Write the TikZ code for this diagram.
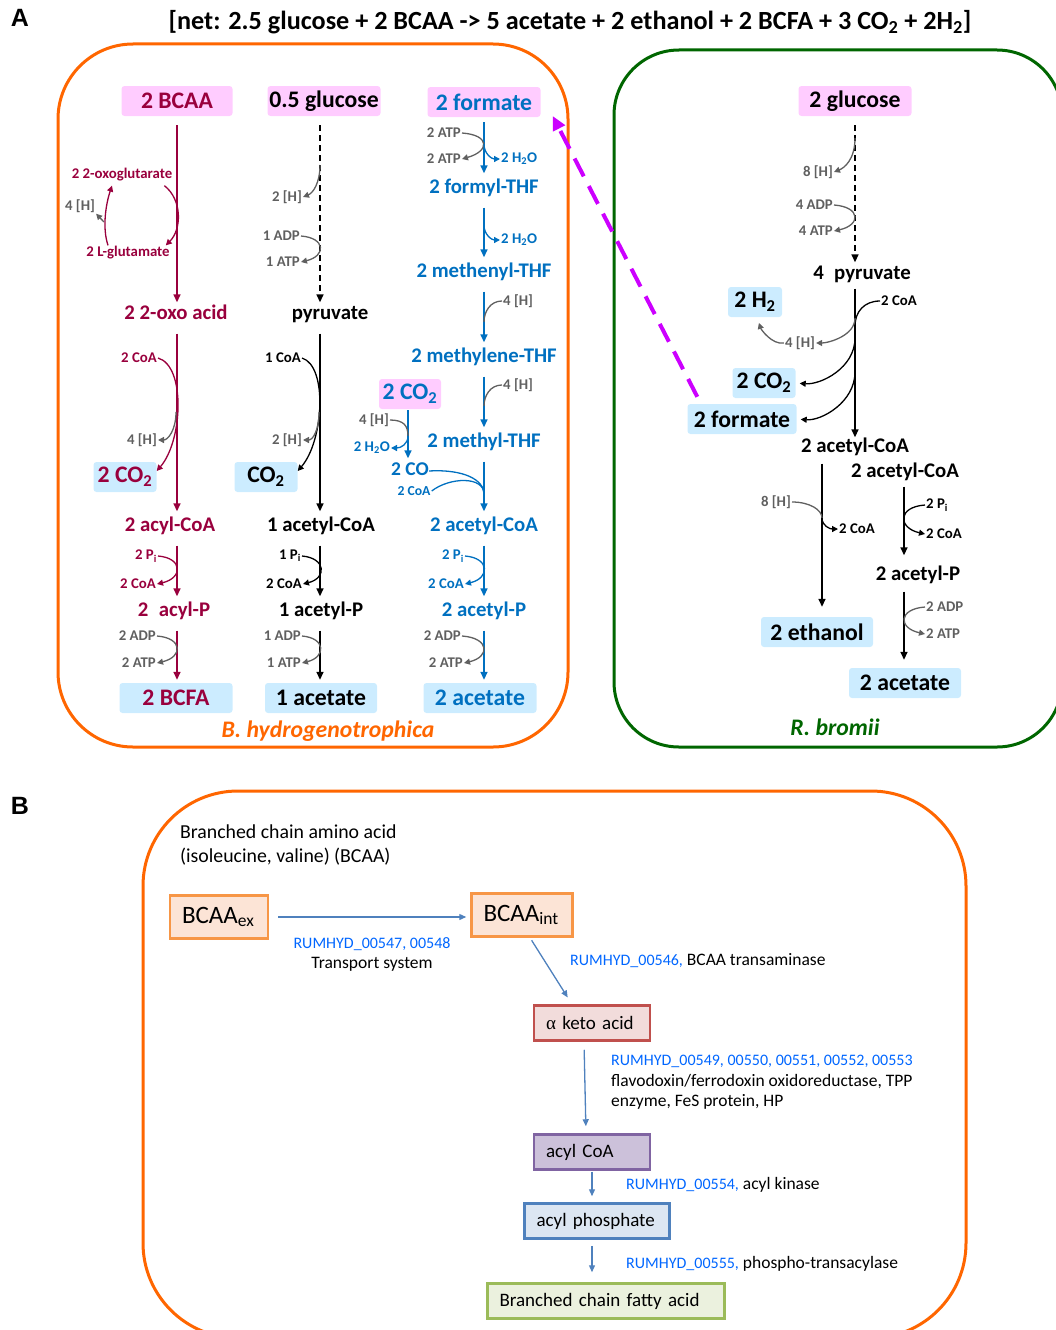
\documentclass[tikz,border=0pt]{standalone}
\usepackage{fontspec}
\setmainfont{Carlito}
\newfontfamily\arialfont{Liberation Sans}
\newfontfamily\greekfont{Liberation Serif}
\usetikzlibrary{arrows.meta}
\usetikzlibrary{positioning}

\definecolor{bhred}{RGB}{153,0,61}
\definecolor{thfblue}{RGB}{0,112,192}
\definecolor{hgray}{RGB}{96,96,96}
\definecolor{boxpink}{RGB}{255,204,255}
\definecolor{boxblue}{RGB}{204,236,255}
\definecolor{bhorange}{RGB}{255,102,0}
\definecolor{rbgreen}{RGB}{0,102,0}
\definecolor{formmag}{RGB}{204,0,255}
\definecolor{genblue}{RGB}{0,102,255}
\definecolor{steel}{RGB}{79,129,189}
\definecolor{bcaaline}{RGB}{247,150,70}
\definecolor{bcaafill}{RGB}{252,228,214}
\definecolor{ketoline}{RGB}{192,80,77}
\definecolor{ketofill}{RGB}{242,220,219}
\definecolor{coaline}{RGB}{128,100,162}
\definecolor{coafill}{RGB}{204,193,218}
\definecolor{phline}{RGB}{79,129,189}
\definecolor{phfill}{RGB}{220,230,242}
\definecolor{faline}{RGB}{155,187,89}
\definecolor{fafill}{RGB}{235,241,222}

\newcommand{\geneid}[1]{\textcolor{genblue}{\fontsize{16}{20}\selectfont #1}}

\tikzset{
  met/.style={font=\bfseries\fontsize{20.8}{24}\selectfont, inner sep=0pt, text height=14pt, text depth=5pt},
  boxed/.style={font=\bfseries\fontsize{23.7}{26}\selectfont, rounded corners=3pt, minimum height=30pt, inner sep=0pt},
  pinkbox/.style={boxed, fill=boxpink},
  bluebox/.style={boxed, fill=boxblue},
  cof/.style={font=\bfseries\fontsize{14.8}{17}\selectfont, inner sep=1pt},
  flow/.style={line width=1.5pt, -{Triangle[length=8pt,width=7pt]}, shorten <=9pt, shorten >=6pt},
  dashflow/.style={flow, dash pattern=on 6pt off 4pt},
  sideline/.style={line width=1.3pt},
  sidearrow/.style={sideline, -{Triangle[length=6pt,width=6pt]}},
  species/.style={font=\bfseries\itshape\fontsize{23.7}{26}\selectfont},
  genebox/.style={draw, line width=2.5pt, minimum height=35pt, inner xsep=12pt, align=left, font=\fontsize{19}{22}\selectfont},
  gene/.style={font=\fontsize{17.5}{20.5}\selectfont, inner sep=0pt, align=left},
  bflow/.style={steel, line width=1.3pt, -{Triangle[length=7pt,width=6pt]}}
}

\begin{document}
\begin{tikzpicture}[x=1pt,y=1pt]
\useasboundingbox (0,0) rectangle (1056,-1330);

% panels
\draw[bhorange, line width=3pt, rounded corners=75pt] (58,-44) rectangle (568,-747);
\draw[rbgreen, line width=3pt, rounded corners=65pt] (614,-50) rectangle (1062,-747);
\draw[bhorange, line width=3pt, rounded corners=95pt] (143,-791) rectangle (966,-1338);

\node[font=\arialfont\bfseries\fontsize{25}{28}\selectfont] (lblA) at (20,-18) {A};
\node[font=\bfseries\fontsize{26.2}{28}\selectfont] (net) at (570,-22)
  {[net: 2.5 glucose + 2 BCAA -> 5 acetate + 2 ethanol + 2 BCFA + 3 CO\textsubscript{2} + 2H\textsubscript{2}]};

%% BCAA column
\coordinate (c1) at (177,0);
\node[pinkbox, text=bhred, minimum width=111pt] (bcaa) at (177,-101) {2 BCAA};
\node[met, text=bhred] (oxoacid) at (176,-315) {2 2-oxo acid};
\node[bluebox, text=bhred, minimum width=63pt] (co2a) at (125,-477) {2 CO\textsubscript{2}};
\node[met, text=bhred] (acylcoa) at (170,-527) {2 acyl-CoA};
\node[met, text=bhred] (acylp) at (174,-612) {2\enspace acyl-P};
\node[bluebox, text=bhred, minimum width=113pt] (bcfa) at (176,-698) {2 BCFA};
\draw[flow, bhred, shorten >=3pt] (bcaa.south -| c1) -- (oxoacid.north -| c1);
\draw[flow, bhred] (oxoacid.south -| c1) -- (acylcoa.north -| c1);
\draw[flow, bhred] (acylcoa.south -| c1) -- (acylp.north -| c1);
\draw[flow, bhred, shorten >=3pt] (acylp.south -| c1) -- (bcfa.north -| c1);
% transamination
\node[cof, text=bhred] (oxoglu) at (122,-175) {2 2-oxoglutarate};
\node[cof, text=bhred] (glu) at (128,-253) {2 L-glutamate};
\node[cof, text=hgray] (hA) at (80,-206) {4 [H]};
\draw[sidearrow, bhred] ([xshift=-9pt,yshift=-3pt]oxoglu.south east) .. controls +(18,-14) and +(16,16) .. ([xshift=-5pt]glu.north east);
\draw[sidearrow, bhred] ([xshift=-20pt]glu.north) .. controls +(-6,18) and +(-6,-18) .. ([xshift=-10pt,yshift=-3pt]oxoglu.south);
\coordinate (gluarc) at (104,-222);
\draw[sidearrow, hgray] (gluarc) -- (hA.south east);
% decarboxylation
\node[cof, text=bhred, anchor=east] (coaA) at (158,-358) {2 CoA};
\node[cof, text=hgray, anchor=east] (hB) at (158,-440) {4 [H]};
\draw[sidearrow, bhred] (coaA.east) .. controls +(28,-8) and +(26,30) .. ([yshift=6pt]co2a.east);
\coordinate (oxoturn) at (176,-412);
\draw[sidearrow, hgray] (oxoturn) .. controls +(0,-18) and +(10,0) .. (hB.east);
\node[cof, text=bhred, anchor=east] (piA) at (158,-556) {2 P\textsubscript{i}};
\node[cof, text=bhred, anchor=east] (coaA2) at (157,-584) {2 CoA};
\draw[sidearrow, bhred] (piA.east) .. controls +(25,-2) and +(26,6) .. (coaA2.east);
\node[cof, text=hgray, anchor=east] (adpA) at (157,-636) {2 ADP};
\node[cof, text=hgray, anchor=east] (atpA) at (157,-663) {2 ATP};
\draw[sidearrow, hgray] (adpA.east) .. controls +(26,-2) and +(26,6) .. (atpA.east);

%% glucose column
\coordinate (c2) at (320,0);
\node[pinkbox, minimum width=113pt] (glcA) at (324,-101) {0.5 glucose};
\node[met] (pyrA) at (330,-315) {pyruvate};
\node[bluebox, minimum width=63pt] (co2b) at (266,-477) {CO\textsubscript{2}};
\node[met] (accA) at (321,-527) {1 acetyl-CoA};
\node[met] (acpA) at (321,-612) {1 acetyl-P};
\node[bluebox, minimum width=112pt] (acA) at (321,-698) {1 acetate};
\draw[dashflow, shorten >=3pt] (glcA.south -| c2) -- (pyrA.north -| c2);
\draw[flow] (pyrA.south -| c2) -- (accA.north -| c2);
\draw[flow] (accA.south -| c2) -- (acpA.north -| c2);
\draw[flow, shorten >=3pt] (acpA.south -| c2) -- (acA.north -| c2);
\node[cof, text=hgray, anchor=east] (hC) at (303,-197) {2 [H]};
\coordinate (glcturn) at (320,-165);
\draw[sidearrow, hgray] (glcturn) .. controls +(0,-18) and +(10,4) .. (hC.east);
\node[cof, text=hgray, anchor=east] (adpB) at (301,-236) {1 ADP};
\node[cof, text=hgray, anchor=east] (atpB) at (301,-262) {1 ATP};
\draw[sidearrow, hgray] (adpB.east) .. controls +(25,-2) and +(25,6) .. (atpB.east);
\node[cof, anchor=east] (coaB) at (302,-358) {1 CoA};
\node[cof, text=hgray, anchor=east] (hD) at (303,-440) {2 [H]};
\draw[sidearrow] (coaB.east) .. controls +(26,-8) and +(26,30) .. ([yshift=6pt]co2b.east);
\coordinate (pyrturn) at (319,-412);
\draw[sidearrow, hgray] (pyrturn) .. controls +(0,-18) and +(10,0) .. (hD.east);
\node[cof, anchor=east] (piB) at (302,-556) {1 P\textsubscript{i}};
\node[cof, anchor=east] (coaB2) at (303,-584) {2 CoA};
\draw[sidearrow] (piB.east) .. controls +(24,-2) and +(24,6) .. (coaB2.east);
\node[cof, text=hgray, anchor=east] (adpC) at (302,-636) {1 ADP};
\node[cof, text=hgray, anchor=east] (atpC) at (302,-663) {1 ATP};
\draw[sidearrow, hgray] (adpC.east) .. controls +(24,-2) and +(24,6) .. (atpC.east);

%% formate column
\coordinate (c3) at (484,0);
\node[pinkbox, text=thfblue, minimum width=113pt] (formA) at (484,-102) {2 formate};
\node[met, text=thfblue] (fthf) at (484,-189) {2 formyl-THF};
\node[met, text=thfblue] (mthf) at (484,-273) {2 methenyl-THF};
\node[met, text=thfblue] (mlthf) at (484,-358) {2 methylene-THF};
\node[met, text=thfblue] (methf) at (484,-443) {2 methyl-THF};
\node[met, text=thfblue] (accB) at (484,-527) {2 acetyl-CoA};
\node[met, text=thfblue] (acpB) at (484,-612) {2 acetyl-P};
\node[bluebox, text=thfblue, minimum width=113pt] (acB) at (480,-698) {2 acetate};
\draw[flow, thfblue, shorten <=5pt] (formA.south -| c3) -- (fthf.north -| c3);
\draw[flow, thfblue] (fthf.south -| c3) -- (mthf.north -| c3);
\draw[flow, thfblue] (mthf.south -| c3) -- (mlthf.north -| c3);
\draw[flow, thfblue] (mlthf.south -| c3) -- (methf.north -| c3);
\draw[flow, thfblue] (methf.south -| c3) -- (accB.north -| c3);
\draw[flow, thfblue] (accB.south -| c3) -- (acpB.north -| c3);
\draw[flow, thfblue, shorten >=3pt] (acpB.south -| c3) -- (acB.north -| c3);
\node[cof, text=hgray, anchor=east] (atpD) at (462,-133) {2 ATP};
\node[cof, text=hgray, anchor=east] (atpE) at (462,-159) {2 ATP};
\draw[sidearrow, hgray] (atpD.east) .. controls +(28,-2) and +(28,8) .. (atpE.east);
\node[cof, text=thfblue, anchor=west] (h2oA) at (500,-159) {2 H\textsubscript{2}O};
\coordinate (formturn) at (484,-144);
\draw[sidearrow, thfblue] (formturn) .. controls +(0,-10) and +(-8,0) .. (h2oA.west);
\node[cof, text=thfblue, anchor=west] (h2oB) at (500,-240) {2 H\textsubscript{2}O};
\coordinate (fthfturn) at (484,-225);
\draw[sidearrow, thfblue] (fthfturn) .. controls +(0,-10) and +(-8,0) .. (h2oB.west);
\node[cof, text=hgray, anchor=west] (hE) at (502,-301) {4 [H]};
\coordinate (mthfturn) at (484,-322);
\draw[sideline, hgray] (hE.west) .. controls +(-12,0) and +(0,10) .. (mthfturn);
\node[cof, text=hgray, anchor=west] (hF) at (502,-385) {4 [H]};
\coordinate (mlthfturn) at (484,-406);
\draw[sideline, hgray] (hF.west) .. controls +(-12,0) and +(0,10) .. (mlthfturn);
% CO2 -> CO
\coordinate (c7) at (408,0);
\node[pinkbox, text=thfblue, minimum width=62pt] (co2c) at (410,-394) {2 CO\textsubscript{2}};
\node[met, text=thfblue, font=\bfseries\fontsize{19.5}{22}\selectfont] (coA) at (410,-471) {2 CO};
\node[cof, text=thfblue, font=\bfseries\fontsize{13.7}{15}\selectfont] (coaC) at (414,-491) {2 CoA};
\draw[flow, thfblue, shorten <=1pt, shorten >=3pt] (co2c.south -| c7) -- (coA.north -| c7);
\node[cof, text=hgray, anchor=east] (hG) at (390,-420) {4 [H]};
\node[cof, text=thfblue, anchor=east] (h2oC) at (391,-448) {2 H\textsubscript{2}O};
\coordinate (coturn) at (408,-436);
\draw[sideline, hgray] (hG.east) .. controls +(14,0) and +(0,10) .. (coturn);
\draw[sidearrow, thfblue] (coturn) .. controls +(0,-8) and +(10,0) .. (h2oC.east);
\coordinate (methturn) at (484,-494);
\draw[sideline, thfblue] (coA.east) .. controls +(35,2) and +(0,14) .. (methturn);
\draw[sideline, thfblue] (coaC.east) .. controls +(18,14) and +(0,18) .. (methturn);
\node[cof, text=thfblue, anchor=east] (piC) at (465,-556) {2 P\textsubscript{i}};
\node[cof, text=thfblue, anchor=east] (coaD) at (465,-584) {2 CoA};
\draw[sidearrow, thfblue] (piC.east) .. controls +(25,-2) and +(25,6) .. (coaD.east);
\node[cof, text=hgray, anchor=east] (adpD) at (462,-636) {2 ADP};
\node[cof, text=hgray, anchor=east] (atpF) at (464,-663) {2 ATP};
\draw[sidearrow, hgray] (adpD.east) .. controls +(28,-2) and +(26,6) .. (atpF.east);

%% R. bromii
\coordinate (c4) at (855,0);
\coordinate (c5) at (822,0);
\coordinate (c6) at (904,0);
\node[pinkbox, minimum width=113pt] (glcB) at (855,-101) {2 glucose};
\node[met] (pyrB) at (862,-275) {4\enspace pyruvate};
\node[met] (accC) at (855,-448) {2 acetyl-CoA};
\node[met] (accD) at (905,-473) {2 acetyl-CoA};
\node[met] (acpC) at (918,-576) {2 acetyl-P};
\node[bluebox, minimum width=112pt] (etoh) at (817,-632) {2 ethanol};
\node[bluebox, minimum width=112pt] (acC) at (905,-683) {2 acetate};
\draw[dashflow, shorten >=3pt] (glcB.south -| c4) -- (pyrB.north -| c4);
\draw[flow, shorten <=4pt, shorten >=1pt] (pyrB.south -| c4) -- (accC.north -| c4);
\draw[flow, shorten <=6pt, shorten >=10pt] (accC.south -| c5) -- (etoh.north -| c5);
\draw[flow, shorten <=4pt, shorten >=11pt] (accD.south -| c6) -- (acpC.north -| c6);
\draw[flow, shorten <=6pt, shorten >=8pt] (acpC.south -| c6) -- (acC.north -| c6);
\node[cof, text=hgray, anchor=east] (hH) at (834,-172) {8 [H]};
\coordinate (glcBturn) at (855,-138);
\draw[sidearrow, hgray] (glcBturn) .. controls +(0,-22) and +(10,4) .. (hH.east);
\node[cof, text=hgray, anchor=east] (adpE) at (834,-205) {4 ADP};
\node[cof, text=hgray, anchor=east] (atpG) at (834,-231) {4 ATP};
\draw[sidearrow, hgray] (adpE.east) .. controls +(27,-2) and +(27,6) .. (atpG.east);
% pyruvate cleavage
\node[cof, anchor=west] (coaE) at (880,-301) {2 CoA};
\coordinate (pyrBin) at (855,-326);
\draw[sideline] (coaE.west) .. controls +(-16,0) and +(0,14) .. (pyrBin);
\node[cof, text=hgray] (hI) at (800,-343) {4 [H]};
\coordinate (pyrBout) at (855,-318);
\draw[sidearrow, hgray] (pyrBout) .. controls +(0,-18) and +(12,0) .. (hI.east);
\node[bluebox, minimum width=54pt] (h2) at (755,-302) {2 H\textsubscript{2}};
\draw[sidearrow, hgray, shorten >=6pt] (hI.west) .. controls +(-12,-2) and +(4,-12) .. ([xshift=2pt]h2.south);
\node[bluebox, minimum width=63pt] (co2d) at (764,-383) {2 CO\textsubscript{2}};
\node[bluebox, minimum width=109pt] (formB) at (742,-419) {2 formate};
\coordinate (pyrBco2) at (855,-338);
\draw[sidearrow, shorten >=4pt] (pyrBco2) .. controls +(0,-30) and +(25,-2) .. (co2d.east);
\coordinate (pyrBform) at (855,-372);
\draw[sidearrow, shorten >=4pt] (pyrBform) .. controls +(0,-30) and +(25,-2) .. (formB.east);
% ethanol and acetate
\node[cof, text=hgray, anchor=east] (hJ) at (792,-502) {8 [H]};
\node[cof, anchor=west] (coaF) at (838,-529) {2 CoA};
\coordinate (etohin) at (822,-518);
\draw[sideline, hgray] (hJ.east) .. controls +(18,0) and +(0,8) .. (etohin);
\draw[sidearrow] (etohin) .. controls +(0,-8) and +(-8,0) .. (coaF.west);
\node[cof, anchor=west] (piD) at (925,-505) {2 P\textsubscript{i}};
\node[cof, anchor=west] (coaG) at (925,-534) {2 CoA};
\draw[sidearrow] (piD.west) .. controls +(-28,-2) and +(-27,6) .. (coaG.west);
\node[cof, text=hgray, anchor=west] (adpF) at (925,-607) {2 ADP};
\node[cof, text=hgray, anchor=west] (atpH) at (925,-634) {2 ATP};
\draw[sidearrow, hgray] (adpF.west) .. controls +(-27,-2) and +(-27,6) .. (atpH.west);

% formate handed over
\draw[formmag, line width=4pt, dash pattern=on 20pt off 11pt, -{Triangle[length=14pt,width=13pt]}]
  ([xshift=10pt,yshift=7pt]formB.north west) -- ([xshift=12pt,yshift=-14pt]formA.east);

\node[species, text=bhorange] (bhname) at (328,-731) {B. hydrogenotrophica};
\node[species, text=rbgreen] (rbname) at (835,-727) {R. bromii};

%% panel B
\node[font=\arialfont\bfseries\fontsize{25}{28}\selectfont] (lblB) at (20,-806) {B};
\node[gene, font=\fontsize{19.8}{24}\selectfont, anchor=north west] (bcaainfo) at (180,-825)
  {Branched chain amino acid\\(isoleucine, valine) (BCAA)};
\node[genebox, draw=bcaaline, fill=bcaafill, text width=74pt, minimum height=43pt, font=\fontsize{25}{28}\selectfont] (bcaaex) at (219,-917) {BCAA\textsubscript{ex}};
\node[genebox, draw=bcaaline, fill=bcaafill, text width=77pt, minimum height=43pt, font=\fontsize{25}{28}\selectfont] (bcaaint) at (522,-915) {BCAA\textsubscript{int}};
\node[genebox, draw=ketoline, fill=ketofill, text width=92pt] (keto) at (592,-1023) {{\greekfont α} keto acid};
\node[genebox, draw=coaline, fill=coafill, text width=92pt] (acylcoaB) at (592,-1152) {acyl CoA};
\node[genebox, draw=phline, fill=phfill, text width=121pt] (acylph) at (597,-1221) {acyl phosphate};
\node[genebox, draw=faline, fill=fafill, text width=213pt] (bcfaB) at (606,-1301) {Branched chain fatty acid};
\draw[bflow, shorten <=9pt, shorten >=4pt] (bcaaex.east) -- (bcaaex.east -| bcaaint.west);
\draw[bflow, shorten <=3pt, shorten >=8pt] ([xshift=8pt]bcaaint.south) -- ([xshift=-20pt]keto.north);
\draw[bflow, shorten <=8pt, shorten >=7pt] ([xshift=-8pt]keto.south) -- ([xshift=-6pt]acylcoaB.north);
\draw[bflow, shorten <=1pt, shorten >=6pt] (acylcoaB.south) -- (acylcoaB.south |- acylph.north);
\draw[bflow, shorten <=6pt, shorten >=10pt] (acylcoaB.south |- acylph.south) -- (acylcoaB.south |- bcfaB.north);
\node[gene, anchor=north, align=center] (trans) at (372,-937) {\geneid{RUMHYD\_00547, 00548}\\Transport system};
\node[gene, anchor=west] (transam) at (570,-961) {\geneid{RUMHYD\_00546,} BCAA transaminase};
\node[gene, anchor=north west] (oxred) at (611,-1055)
  {\geneid{RUMHYD\_00549, 00550, 00551, 00552, 00553}\\flavodoxin/ferrodoxin oxidoreductase, TPP\\enzyme, FeS protein, HP};
\node[gene, anchor=west] (kinase) at (626,-1185) {\geneid{RUMHYD\_00554,} acyl kinase};
\node[gene, anchor=west] (ptrans) at (626,-1264) {\geneid{RUMHYD\_00555,} phospho-transacylase};
\end{tikzpicture}
\end{document}
